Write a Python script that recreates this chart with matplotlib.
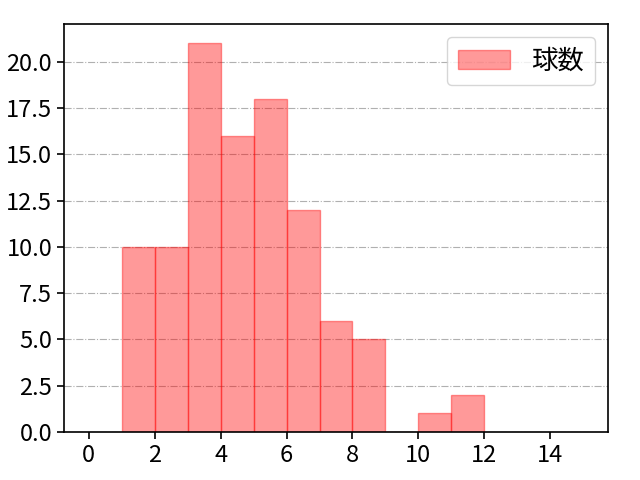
import numpy as np
import matplotlib
matplotlib.use("Agg")
import matplotlib.pyplot as plt

plt.rcParams['font.family'] = ['Noto Sans CJK JP', 'DejaVu Sans']

# bin edges and counts per bin
bin_edges = [1, 2, 3, 4, 5, 6, 7, 8, 9, 10, 11, 12]
counts = [10, 10, 21, 16, 18, 12, 6, 5, 0, 1, 2]
label = "球数"

fig, ax = plt.subplots(figsize=(6.4, 4.8), dpi=100)
lefts = bin_edges[:-1]
ax.bar(lefts, counts, width=1.0, align='edge',
       color='red', edgecolor='red', alpha=0.4, linewidth=1.0, label=label)

ax.set_xlim(-0.75, 15.75)
ax.set_ylim(0, 22.05)
ax.set_xticks(np.arange(0, 15, 2))
ax.set_yticks(np.arange(0, 22, 2.5))
ax.yaxis.grid(True, linestyle='-.', color='#b0b0b0', linewidth=0.8)
ax.set_axisbelow(True)
for s in ax.spines.values():
    s.set_linewidth(1.2)
ax.tick_params(labelsize=17, width=1.2, length=5)
ax.legend(loc='upper right', fontsize=19)

fig.subplots_adjust(left=0.1, right=0.95, bottom=0.1, top=0.95)
fig.savefig("out.png", dpi=100)
